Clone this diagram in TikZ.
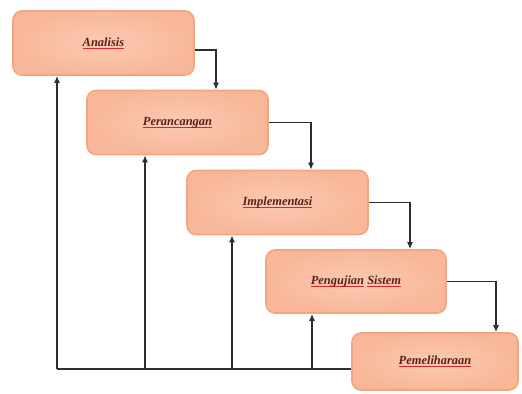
\documentclass[tikz,border=0pt]{standalone}
\usepackage{fontspec}
\setmainfont{Liberation Serif}
\usetikzlibrary{arrows.meta}
\definecolor{boxfill}{RGB}{249,184,154}
\definecolor{boxedge}{RGB}{244,164,128}
\definecolor{txt}{RGB}{92,32,26}
\definecolor{wavy}{RGB}{215,40,40}
\definecolor{conn}{RGB}{45,45,45}
\newsavebox\ulwordbox
\newcommand\redunder[1]{\sbox\ulwordbox{#1}\rlap{\textcolor{wavy}{\rule[-2.2bp]{\wd\ulwordbox}{0.8bp}}}\usebox\ulwordbox}
\tikzset{
  stage/.style={draw=boxedge, line width=1.6bp, rounded corners=9bp, inner color=boxfill!75!white, outer color=boxfill!95!boxedge,
    minimum width=181bp, minimum height=64bp, font=\fontsize{12.5}{14}\selectfont\itshape\bfseries, text=txt},
  flow/.style={draw=conn, line width=1.6bp, -{Latex[length=7bp,width=6bp]}},
  plain/.style={draw=conn, line width=1.6bp}
}
\begin{document}
\begin{tikzpicture}[x=1bp,y=-1bp]
\useasboundingbox (0,0) rectangle (522,393);
\node[stage] (a) at (103.5,43) {\redunder{Analisis}};
\node[stage] (b) at (177.5,122.5) {\redunder{Perancangan}};
\node[stage] (c) at (277.5,202.5) {\redunder{Implementasi}};
\node[stage, minimum width=180bp, minimum height=63bp] (d) at (356,281.5) {\redunder{Pengujian} \redunder{Sistem}};
\node[stage, minimum width=166bp, minimum height=57bp] (e) at (435,361.5) {\redunder{Pemeliharaan}};
% forward connectors
\coordinate (x1) at (216,0);
\coordinate (x2) at (311,0);
\coordinate (x3) at (410,0);
\coordinate (x4) at (496,0);
\draw[flow] ([yshift=-7bp]a.east) -| (x1 |- b.north);
\draw[flow] (b.east) -| (x2 |- c.north);
\draw[flow] (c.east) -| (x3 |- d.north);
\draw[flow] (d.east) -| (x4 |- e.north);
% feedback
\coordinate (base) at (57,369);
\coordinate (f2) at (145,369);
\coordinate (f3) at (232,369);
\coordinate (f4) at (312,369);
\draw[plain] (e.west |- base) -- (base);
\draw[flow] (base) -- (base |- a.south);
\draw[flow] (f2) -- (f2 |- b.south);
\draw[flow] (f3) -- (f3 |- c.south);
\draw[flow] (f4) -- (f4 |- d.south);
\end{tikzpicture}
\end{document}
